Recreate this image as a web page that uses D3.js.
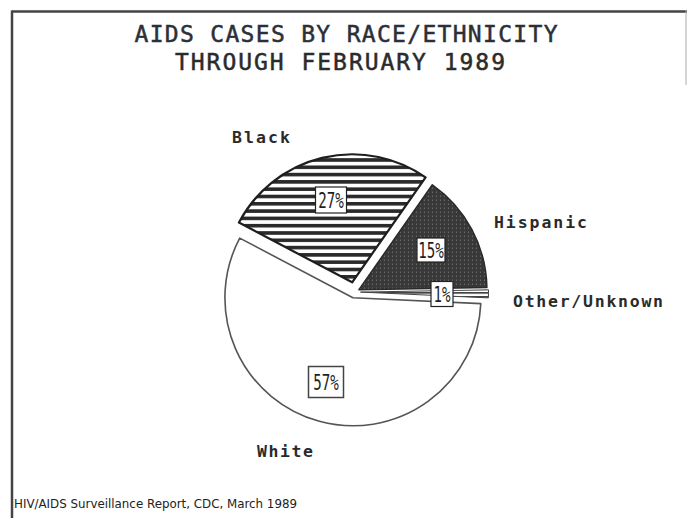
<!DOCTYPE html>
<html><head><meta charset="utf-8">
<script src="https://cdn.jsdelivr.net/npm/d3@7/dist/d3.min.js"></script>
<style>html,body{margin:0;padding:0;background:#fff;overflow:hidden}</style>
</head><body>
<svg id="chart" width="687" height="518"></svg>
<script>
const titleLines = ["AIDS CASES BY RACE/ETHNICITY", "THROUGH FEBRUARY 1989"];
const categories = ["Black", "Hispanic", "Other/Unknown", "White"];
const values = [27, 15, 1, 57];
const pctLabels = ["27%", "15%", "1%", "57%"];
const footnote = "HIV/AIDS Surveillance Report, CDC, March 1989";

const svg = d3.select("#chart");
const defs = svg.append("defs");

// horizontal stripe pattern
const stripe = defs.append("pattern").attr("id","stripes").attr("patternUnits","userSpaceOnUse")
  .attr("width",8).attr("height",7.3);
stripe.append("rect").attr("width",8).attr("height",7.3).attr("fill","#fff");
stripe.append("rect").attr("y",0).attr("width",8).attr("height",3.6).attr("fill","#2a2a2a");

// thin stripe pattern for the sliver
const stripe2 = defs.append("pattern").attr("id","stripes2").attr("patternUnits","userSpaceOnUse")
  .attr("width",8).attr("height",4);
stripe2.append("rect").attr("width",8).attr("height",4).attr("fill","#fff");
stripe2.append("rect").attr("y",0).attr("width",8).attr("height",1.6).attr("fill","#333");

// dark dotted pattern
const dots = defs.append("pattern").attr("id","dots").attr("patternUnits","userSpaceOnUse")
  .attr("width",4).attr("height",4);
dots.append("rect").attr("width",4).attr("height",4).attr("fill","#383838");
dots.append("rect").attr("x",1).attr("y",2).attr("width",1).attr("height",1).attr("fill","#8a8a8a");

// frame
svg.append("line").attr("x1",12).attr("y1",11.5).attr("x2",687).attr("y2",11.5).attr("stroke","#444").attr("stroke-width",2.5);
svg.append("line").attr("x1",12).attr("y1",10.5).attr("x2",12).attr("y2",518).attr("stroke","#444").attr("stroke-width",2.5);
svg.append("line").attr("x1",686).attr("y1",10).attr("x2",686).attr("y2",85).attr("stroke","#aaa").attr("stroke-width",1);

// title
const tfont = "'DejaVu Sans Mono', 'Liberation Mono', monospace";
svg.append("text").attr("x",346).attr("y",42).attr("text-anchor","middle")
  .attr("font-family",tfont).attr("font-size",23).attr("fill","#2b3038")
  .attr("stroke","#2b3038").attr("stroke-width",0.5)
  .attr("textLength",423).attr("lengthAdjust","spacing").text(titleLines[0]);
svg.append("text").attr("x",340).attr("y",70).attr("text-anchor","middle")
  .attr("font-family",tfont).attr("font-size",23).attr("fill","#2b2b2b")
  .attr("stroke","#2b2b2b").attr("stroke-width",0.5)
  .attr("textLength",330).attr("lengthAdjust","spacing").text(titleLines[1]);

// pie
const cx = 354.5, cy = 292, r = 128;
const explode = [10, 5, 6, 6];
const fills = ["url(#stripes)", "url(#dots)", "url(#stripes2)", "#fff"];
const strokes = ["#1e1e1e", "#2a2a2a", "#444", "#555"];
const strokeW = [2.2, 1.5, 1, 1.6];
const start = -62.2 * Math.PI / 180;
const pie = d3.pie().sort(null).startAngle(start).endAngle(start + 2*Math.PI);
const arcs = pie(values);
const arcGen = d3.arc().innerRadius(0).outerRadius(r);

const g = svg.append("g").attr("transform",`translate(${cx},${cy})`);
arcs.forEach((a,i) => {
  const mid = (a.startAngle + a.endAngle)/2;
  const dx = explode[i]*Math.sin(mid), dy = -explode[i]*Math.cos(mid);
  g.append("path").attr("d",arcGen(a)).attr("transform",`translate(${dx},${dy})`)
    .attr("fill",fills[i]).attr("stroke",strokes[i]).attr("stroke-width",strokeW[i])
    .attr("stroke-linejoin","round");
});

// percent boxes
const boxPos = [[331,200],[431,250],[442,294],[326,382]];
const boxW = [31, 28, 22, 35], boxH = [26, 24, 25, 31];
arcs.forEach((a,i) => {
  const [bx,by] = boxPos[i];
  svg.append("rect").attr("x",bx-boxW[i]/2).attr("y",by-boxH[i]/2).attr("width",boxW[i]).attr("height",boxH[i])
    .attr("fill","#fff").attr("stroke", i===3 ? "#444" : "#222").attr("stroke-width", i===3 ? 1.5 : 1.2);
  svg.append("text").attr("x",bx).attr("y",by+8).attr("text-anchor","middle")
    .attr("font-family",tfont).attr("font-size",21).attr("fill","#1e1e1e")
    .attr("textLength", pctLabels[i].length*8.5).attr("lengthAdjust","spacingAndGlyphs")
    .text(pctLabels[i]);
});

// category labels
const lblPos = [[232,143],[494,228],[513,307],[257,457]];
const lblW = [58, 93, 150, 56];
categories.forEach((c,i) => {
  svg.append("text").attr("x",lblPos[i][0]).attr("y",lblPos[i][1])
    .attr("font-family",tfont).attr("font-size",16.5).attr("font-weight","bold").attr("fill","#2a2a2a")
    .attr("textLength",lblW[i]).attr("lengthAdjust","spacing").text(c);
});

// footnote
svg.append("text").attr("x",14).attr("y",508)
  .attr("font-family","'DejaVu Sans', sans-serif").attr("font-size",12.5).attr("fill","#222")
  .attr("textLength",283).attr("lengthAdjust","spacingAndGlyphs").text(footnote);
</script>
</body></html>
